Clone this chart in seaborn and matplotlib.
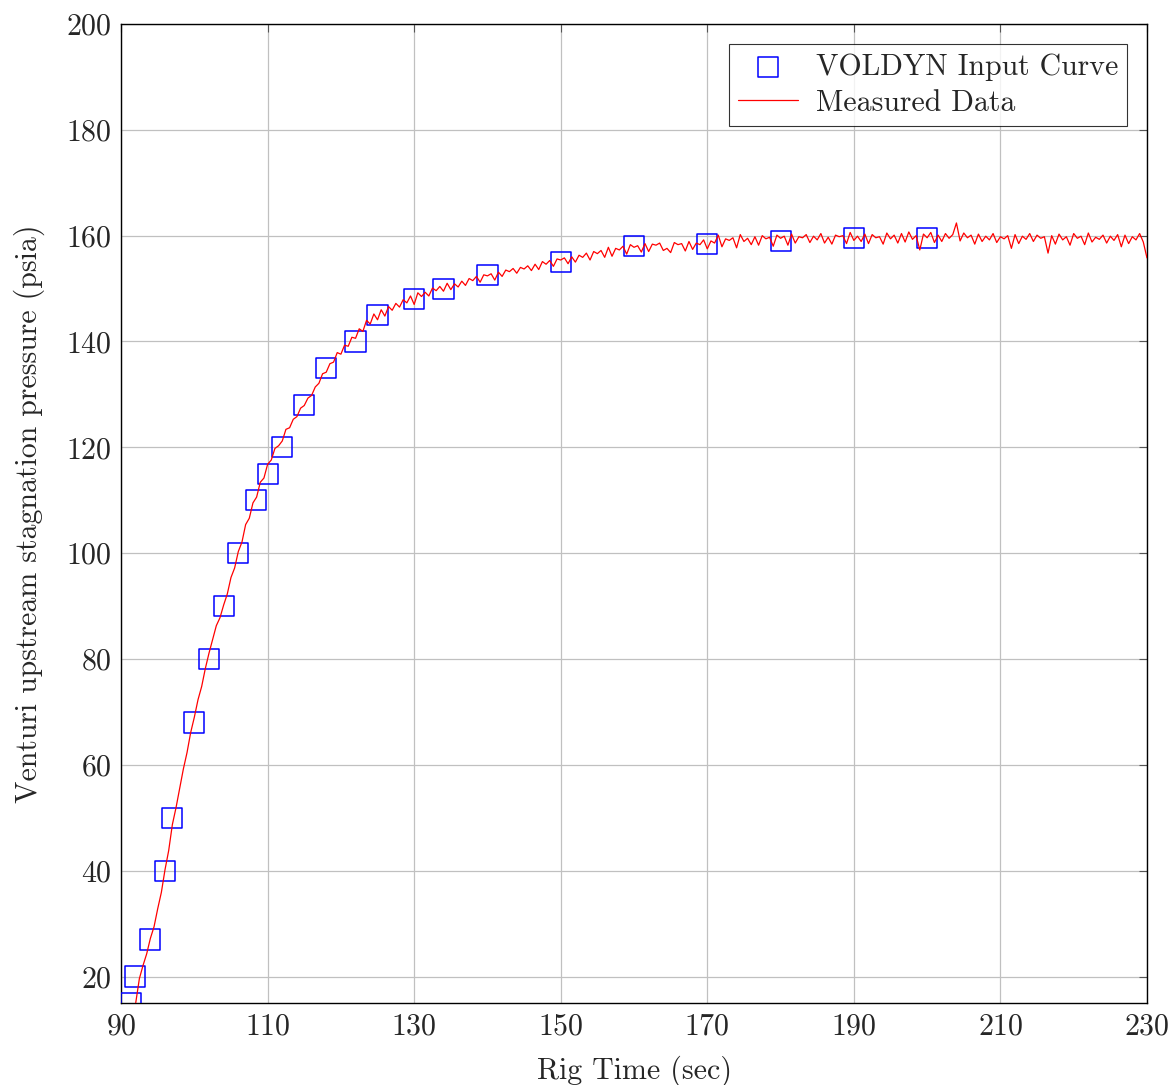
import numpy as np
import pandas as pd
import matplotlib
matplotlib.use("Agg")
import matplotlib.pyplot as plt
import seaborn as sns

# VOLDYN input curve (square markers)
voldyn_time = [91.4, 91.9, 94, 96, 97, 100, 102, 104, 106, 108.4, 110, 112, 115, 118,
               122, 125, 130, 134, 140, 150, 160, 170, 180, 190, 200]
voldyn_pressure = [15, 20, 27, 40, 50, 68, 80, 90, 100, 110, 115, 120, 128, 135,
                   140, 145, 148, 150, 152.5, 155, 158, 158.5, 159, 159.5, 159.5]

# Measured data, sampled every 0.5 s starting at 92 s
measured_start = 92.0
measured_step = 0.5
measured_pressure = [
    15.0, 19.6, 22.1, 24.3, 27.2, 29.4, 32.8, 35.9, 40.2, 43.8,
    48.7, 51.9, 55.6, 59.2, 62.3, 66.1, 69.0, 72.3, 74.8, 78.2,
    81.1, 83.7, 86.3, 87.8, 90.2, 92.3, 95.4, 97.2, 100.3, 102.1,
    105.4, 106.6, 109.5, 110.6, 113.4, 114.2, 116.8, 117.6, 119.8, 120.3,
    121.2, 123.4, 123.7, 125.3, 125.8, 127.4, 127.9, 129.3, 129.8, 131.4,
    132.1, 133.9, 134.2, 135.8, 136.1, 137.9, 137.6, 139.3, 139.1, 140.8,
    140.6, 142.4, 141.9, 144.0, 143.3, 145.2, 144.1, 146.0, 144.8, 146.6,
    145.9, 147.2, 146.5, 147.9, 147.3, 148.6, 147.0, 149.2, 148.5, 149.3,
    148.6, 150.1, 149.6, 150.4, 149.5, 151.0, 149.8, 150.9, 150.3, 151.4,
    150.6, 151.9, 151.5, 152.3, 151.2, 152.6, 152.4, 152.8, 151.6, 153.1,
    152.3, 153.5, 153.2, 153.8, 152.9, 154.0, 153.7, 154.3, 153.4, 154.6,
    153.6, 155.1, 154.6, 155.3, 154.2, 155.6, 155.4, 155.8, 154.7, 156.0,
    155.0, 156.3, 155.9, 156.7, 155.4, 157.0, 156.6, 157.2, 155.9, 157.8,
    156.1, 157.6, 157.3, 158.0, 156.5, 158.3, 157.8, 158.1, 156.9, 158.5,
    157.0, 158.4, 158.2, 158.6, 157.2, 157.6, 156.8, 158.7, 158.3, 158.5,
    157.1, 158.9, 157.4, 158.6, 158.3, 159.2, 157.5, 159.0, 158.6, 160.1,
    157.9, 159.4, 159.1, 159.6, 157.7, 160.2, 158.9, 159.5, 158.3, 159.8,
    158.2, 160.0, 159.4, 159.7, 158.0, 160.1, 159.5, 159.9, 158.2, 160.3,
    158.6, 159.8, 159.6, 160.2, 158.7, 159.9, 159.2, 160.4, 158.6, 159.7,
    158.4, 160.1, 159.8, 160.0, 158.5, 160.6, 159.1, 159.9, 158.9, 160.3,
    158.5, 160.2, 159.6, 159.8, 158.4, 160.5, 159.4, 160.1, 158.6, 160.4,
    158.8, 160.7, 159.3, 160.0, 157.3, 160.3, 159.6, 160.6, 158.7, 160.1,
    158.9, 160.4, 159.5, 160.2, 162.4, 159.0, 160.5, 159.6, 160.1, 158.4,
    160.3, 158.9, 159.9, 159.2, 160.4, 158.7, 159.8, 159.4, 160.0, 157.6,
    160.2, 158.5, 159.9, 159.3, 160.4, 158.9, 160.1, 159.5, 159.8, 156.7,
    160.0, 158.4, 160.3, 159.2, 159.8, 158.2, 160.4, 159.5, 159.9, 158.3,
    160.5, 158.8, 159.7, 159.3, 160.1, 158.6, 159.9, 159.1, 160.2, 157.9,
    160.1, 158.5, 159.8, 159.2, 160.4, 158.8, 155.8,
]
measured_time = measured_start + measured_step * np.arange(len(measured_pressure))

x_ticks = [90, 110, 130, 150, 170, 190, 210, 230]
y_ticks = [20, 40, 60, 80, 100, 120, 140, 160, 180, 200]

sns.set_theme(style="white")
plt.rcParams["font.family"] = ["cmr10", "DejaVu Serif"]
plt.rcParams["mathtext.fontset"] = "cm"
plt.rcParams["axes.formatter.use_mathtext"] = True

fig = plt.figure(figsize=(11.73, 10.85), dpi=100)
ax = fig.add_axes([0.1032, 0.0756, 0.8746, 0.9023])

df_v = pd.DataFrame({"t": voldyn_time, "p": voldyn_pressure})
df_m = pd.DataFrame({"t": measured_time, "p": measured_pressure})

sns.scatterplot(data=df_v, x="t", y="p", ax=ax, marker="s", s=210,
                facecolor="none", edgecolor="#0000ff", linewidth=1.1,
                label="VOLDYN Input Curve", zorder=3)
sns.lineplot(data=df_m, x="t", y="p", ax=ax, color="#ff0000", linewidth=0.9,
             label="Measured Data", zorder=4, estimator=None, sort=False)

ax.set_xlim(90, 230)
ax.set_ylim(15, 200)
ax.set_xticks(x_ticks)
ax.set_yticks(y_ticks)
ax.grid(True, color="#c0c0c0", linewidth=0.9)
ax.set_axisbelow(True)
for s in ax.spines.values():
    s.set_color("black")
    s.set_linewidth(1.0)
ax.tick_params(direction="in", length=6, width=0.8, color="#555555",
               top=True, right=True, labelsize=21.5, pad=7)
ax.set_xlabel("Rig Time (sec)", fontsize=21.5, labelpad=11)
ax.set_ylabel("Venturi upstream stagnation pressure (psia)", fontsize=21.5, labelpad=15)

leg = ax.legend(loc="upper right", bbox_to_anchor=(0.9805, 0.9795), fontsize=21.5,
                frameon=True, fancybox=False, edgecolor="black",
                borderpad=0.3, handlelength=2.0, labelspacing=0.3, handletextpad=0.6,
                borderaxespad=0.0)
leg.get_frame().set_linewidth(0.8)

fig.savefig("out.png", dpi=100)
